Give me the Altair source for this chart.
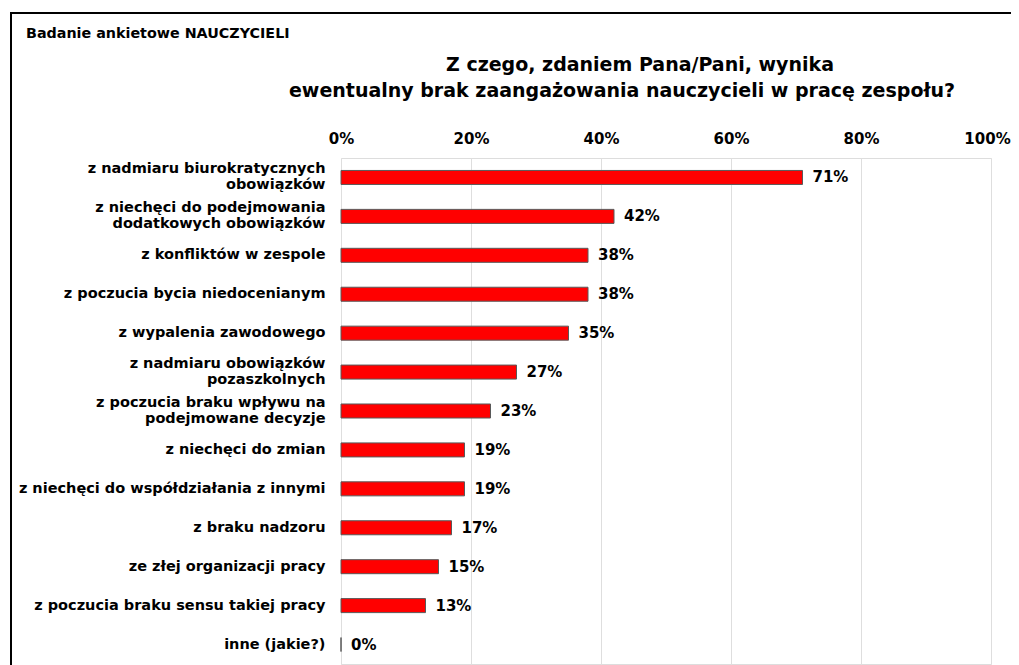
import altair as alt
import pandas as pd

# ---- data ----
categories = [
    "z nadmiaru biurokratycznych|obowiązków",
    "z niechęci do podejmowania|dodatkowych obowiązków",
    "z konfliktów w zespole",
    "z poczucia bycia niedocenianym",
    "z wypalenia zawodowego",
    "z nadmiaru obowiązków|pozaszkolnych",
    "z poczucia braku wpływu na|podejmowane decyzje",
    "z niechęci do zmian",
    "z niechęci do współdziałania z innymi",
    "z braku nadzoru",
    "ze złej organizacji pracy",
    "z poczucia braku sensu takiej pracy",
    "inne (jakie?)",
]
values = [71, 42, 38, 38, 35, 27, 23, 19, 19, 17, 15, 13, 0]
x_ticks = [0, 20, 40, 60, 80, 100]

small_title = "Badanie ankietowe NAUCZYCIELI"
title_line1 = "Z czego, zdaniem Pana/Pani,  wynika"
title_line2 = "ewentualny  brak zaangażowania  nauczycieli  w pracę zespołu?"

FONT = "DejaVu Sans"

df = pd.DataFrame({"kategoria": categories, "procent": values})

y_scale = alt.Scale(paddingInner=0.64, paddingOuter=0.32)

x_enc = alt.X(
    "procent:Q",
    scale=alt.Scale(domain=[0, 100]),
    axis=alt.Axis(
        orient="top", values=x_ticks, labelExpr="datum.value + '%'", title=None,
        ticks=False, tickSize=0, domain=False, grid=True, gridColor="#dedede",
        gridWidth=1, labelFont=FONT, labelFontSize=15, labelFontWeight="bold",
        labelColor="black", labelPadding=12, labelFlush=False,
        labelOffset={"condition": {"test": "datum.value >= 100", "value": -4}, "value": 0},
    ),
)
y_enc = alt.Y(
    "kategoria:N", sort=categories, scale=y_scale,
    axis=alt.Axis(
        title=None, labelExpr="split(datum.label, '|')", labelFont=FONT,
        labelFontSize=14.5, labelFontWeight="bold", labelColor="black",
        labelLineHeight=16, labelPadding=16, ticks=False, domain=False,
        labelLimit=400,
        labelOffset={"condition": {"test": "indexof(datum.value, '|') >= 0", "value": -8}, "value": 0},
    ),
)

bars = alt.Chart(df).mark_bar(color="#ff0000", stroke="#595959", strokeWidth=1).encode(
    x=x_enc, y=y_enc
)

value_labels = alt.Chart(df).transform_calculate(
    txt="datum.procent + '%'"
).mark_text(
    align="left", baseline="middle", dx=10, font=FONT, fontSize=15,
    fontWeight="bold", color="black",
).encode(
    x="procent:Q", y=alt.Y("kategoria:N", sort=categories), text="txt:N"
)

tdf = pd.DataFrame({"a": [small_title], "b": [title_line1], "c": [title_line2]})

t_small = alt.Chart(tdf).mark_text(
    align="left", baseline="alphabetic", font=FONT, fontSize=14.3,
    fontWeight="bold", color="black",
).encode(x=alt.value(-315), y=alt.value(-120), text="a:N")

t_1 = alt.Chart(tdf).mark_text(
    align="center", baseline="alphabetic", font=FONT, fontSize=19,
    fontWeight="bold", color="black",
).encode(x=alt.value(299), y=alt.value(-87), text="b:N")

t_2 = alt.Chart(tdf).mark_text(
    align="center", baseline="alphabetic", font=FONT, fontSize=19,
    fontWeight="bold", color="black",
).encode(x=alt.value(281), y=alt.value(-61), text="c:N")

frame_top = alt.Chart(tdf).mark_rule(color="black", strokeWidth=2).encode(
    x=alt.value(-331), x2=alt.value(700), y=alt.value(-145)
)
frame_left = alt.Chart(tdf).mark_rule(color="black", strokeWidth=2).encode(
    x=alt.value(-330), y=alt.value(-146), y2=alt.value(520)
)

chart = alt.layer(
    bars, value_labels, t_small, t_1, t_2, frame_top, frame_left
).properties(
    width=650, height=506,
    padding={"left": 333, "top": 150, "right": 20, "bottom": 1},
    autosize=alt.AutoSizeParams(type="none"),
).configure_view(
    stroke="#999999", strokeWidth=1.5
).configure(background="white")

chart.save("out.html", embed_options={"renderer": "svg", "actions": False})
